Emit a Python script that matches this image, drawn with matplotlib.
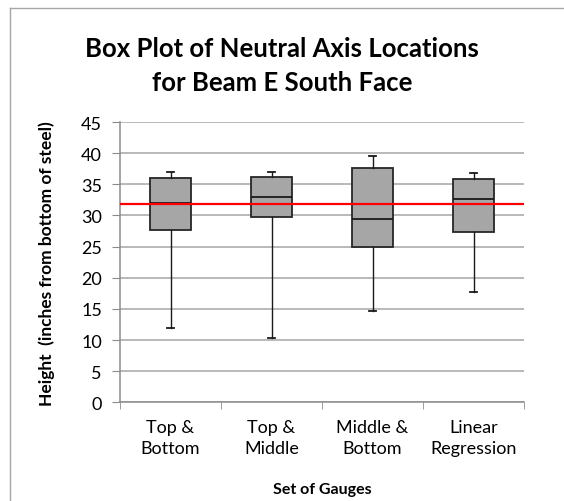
import matplotlib
matplotlib.use("Agg")
import matplotlib.pyplot as plt
from matplotlib.lines import Line2D

categories = ["Top &\nBottom", "Top &\nMiddle", "Middle &\nBottom", "Linear\nRegression"]
whisker_low = [11.9, 10.3, 14.7, 17.7]
q1 = [27.7, 29.8, 24.9, 27.4]
median = [32.0, 33.0, 29.4, 32.7]
q3 = [36.0, 36.2, 37.6, 35.8]
whisker_high = [37.0, 37.0, 39.6, 36.8]
reference_line = 31.9
yticks = list(range(0, 50, 5))

plt.rcParams['font.family'] = ['Lato', 'DejaVu Sans']

fig = plt.figure(figsize=(5.64, 5.02), dpi=100)
ax = fig.add_axes([120/564, 1-403.3/502, (524-120)/564, (403.3-123)/502])

stats = []
for i in range(len(categories)):
    stats.append(dict(whislo=whisker_low[i], q1=q1[i], med=median[i], q3=q3[i],
                      whishi=whisker_high[i], fliers=[], label=categories[i]))

ax.bxp(stats, positions=range(len(categories)), widths=0.4, patch_artist=True,
       showfliers=False,
       boxprops=dict(facecolor="#a6a6a6", edgecolor="#262626", linewidth=1.3),
       medianprops=dict(color="#1a1a1a", linewidth=1.3),
       whiskerprops=dict(color="#1a1a1a", linewidth=1.0),
       capprops=dict(color="#1a1a1a", linewidth=1.3),
       capwidths=0.07, zorder=3)

ax.axhline(reference_line, color="#ff0000", linewidth=1.6, zorder=4)

ax.set_xlim(-0.5, len(categories) - 0.5)
ax.set_ylim(0, 45)
ax.set_yticks(yticks)
ax.set_yticklabels([str(t) for t in yticks], fontsize=13)
ax.set_xticks(range(len(categories)))
ax.set_xticklabels(categories, fontsize=13, linespacing=1.35)
ax.tick_params(axis='x', length=0, pad=12)
ax.set_xticks([i - 0.5 for i in range(len(categories) + 1)], minor=True)
ax.tick_params(axis='x', which='minor', length=5, color="#8c8c8c", direction='out')
ax.tick_params(axis='y', length=6, color="#8c8c8c", direction='out', pad=7)

ax.grid(axis='y', color="#a6a6a6", linewidth=1.1, zorder=0)
ax.set_axisbelow(True)
for s in ["top", "right"]:
    ax.spines[s].set_visible(False)
for s in ["left", "bottom"]:
    ax.spines[s].set_color("#8c8c8c")
    ax.spines[s].set_linewidth(1.1)

ax.set_xlabel("Set of Gauges", fontsize=11.5, fontweight='bold', labelpad=19)
ax.set_ylabel("Height  (inches from bottom of steel)", fontsize=12.5, fontweight='bold', labelpad=19)

fig.text(0.5, 1-66/502, "Box Plot of Neutral Axis Locations\nfor Beam E South Face",
         ha='center', va='center', fontsize=18.5, fontweight='bold', linespacing=1.5)

fig.lines.append(Line2D([10/564, 1.0], [1-9/502, 1-9/502], transform=fig.transFigure,
                        color="#a6a6a6", linewidth=1.0))
fig.lines.append(Line2D([10/564, 10/564], [0.0, 1-9/502], transform=fig.transFigure,
                        color="#a6a6a6", linewidth=1.0))

fig.savefig("out.png", dpi=100)
